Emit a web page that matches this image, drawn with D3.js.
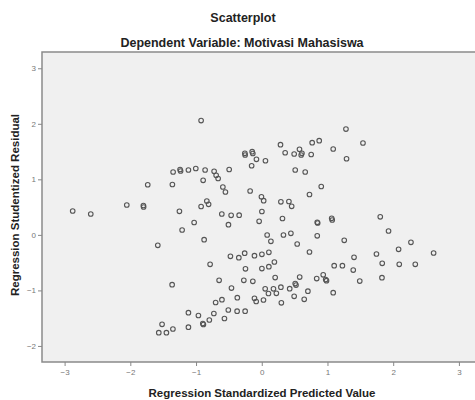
<!DOCTYPE html>
<html>
<head>
<meta charset="utf-8">
<script src="https://cdn.jsdelivr.net/npm/d3@7"></script>
<style>
  body { margin: 0; background: #fff; }
  svg text { font-family: "Liberation Sans", Arial, sans-serif; }
  .axis path { display: none; }
  .axis line { stroke: #888; }
  .axis text { fill: #777; font-size: 8px; }
</style>
</head>
<body>
<div id="grafico"></div>
<script>
// Regression Standardized Predicted Value
var predicted = [
  -0.923, 1.281, 1.540, 0.285, 0.767, 0.874, -0.257, -0.253, -0.146, -0.136,
  0.356, 0.493, 0.574, 0.611, 0.600, 0.752, 1.087, 1.290, -0.081, 0.056,
  -0.154, -1.349, -1.243, -1.235, -1.116, -1.004, -0.862, -0.725, -0.694, -0.664,
  -0.496, 0.509, 0.661, -0.892, -1.735, -1.360, -0.592, -0.553, -0.177, 0.905,
  0.726, -0.836, -0.809, -0.923, -0.005, 0.029, 0.291, 0.413, 0.455, -2.054,
  -1.801, -1.798, -2.877, -2.602, -1.253, 0.002, -0.608, -0.466, -0.344, 1.803,
  0.315, -0.040, 1.064, 1.072, 0.844, 0.851, -1.029, -0.507, -1.212, 1.929,
  -1.582, -0.877, 0.082, 0.139, 0.330, 0.443, 0.539, 0.844, 1.255, 2.270,
  -0.477, -0.349, -0.260, -0.111, 0.002, 0.108, 0.726, 2.082, 1.745, 2.615,
  1.404, -0.786, -0.248, 0.002, 0.108, 0.192, 1.102, 1.227, 1.392, 1.833,
  2.092, 2.336, -1.364, -0.649, -0.273, -0.136, 0.204, 0.577, 0.836, 0.935,
  0.973, 0.985, 1.491, 1.829, 0.509, 0.521, -0.461, 0.052, 0.102, 0.178,
  0.291, 0.222, 0.425, 0.702, 1.087, -0.372, -0.111, -0.085, 0.026, 0.298,
  0.493, 0.646, -0.702, -0.606, -1.116, -0.964, -0.729, -0.509, -0.375, -0.253,
  -0.798, -0.568, -0.897, -0.888, -1.116, -1.517, -1.352, -1.567, -1.451
];

// Regression Studentized Residual
var residual = [
  2.059, 1.906, 1.654, 1.624, 1.660, 1.696, 1.469, 1.438, 1.498, 1.465,
  1.479, 1.456, 1.541, 1.469, 1.438, 1.447, 1.546, 1.371, 1.361, 1.335,
  1.245, 1.132, 1.177, 1.150, 1.168, 1.195, 1.168, 1.145, 1.073, 1.015,
  1.177, 1.168, 1.132, 0.983, 0.903, 0.907, 0.862, 0.772, 0.790, 0.871,
  0.727, 0.610, 0.550, 0.511, 0.687, 0.615, 0.595, 0.601, 0.514, 0.538,
  0.529, 0.502, 0.430, 0.376, 0.424, 0.421, 0.376, 0.352, 0.354, 0.325,
  0.295, 0.244, 0.298, 0.268, 0.226, 0.214, 0.223, 0.183, 0.088, 0.070,
  -0.188, -0.087, -0.002, -0.116, -0.002, 0.028, -0.164, -0.017, -0.098, -0.134,
  -0.386, -0.411, -0.330, -0.375, -0.350, -0.314, -0.308, -0.260, -0.344, -0.326,
  -0.404, -0.530, -0.611, -0.606, -0.573, -0.488, -0.555, -0.555, -0.633, -0.512,
  -0.530, -0.530, -0.897, -0.818, -0.818, -0.836, -0.768, -0.759, -0.786, -0.719,
  -0.804, -0.825, -0.831, -0.771, -0.876, -0.903, -0.957, -0.971, -1.056, -0.971,
  -0.942, -1.052, -0.969, -1.014, -1.041, -1.131, -1.142, -1.200, -1.173, -1.223,
  -1.106, -1.160, -1.218, -1.167, -1.401, -1.452, -1.416, -1.353, -1.374, -1.374,
  -1.533, -1.506, -1.596, -1.614, -1.662, -1.610, -1.695, -1.761, -1.761
];

var xTicks = [-3, -2, -1, 0, 1, 2, 3];
var yTicks = [-2, -1, 0, 1, 2, 3];

var data = predicted.map(function(d, i) { return {x: d, y: residual[i]}; });

var W = 475, H = 400;
var margin = {top: 52, right: -6, bottom: 38, left: 42},
    width = W - margin.left - margin.right,
    height = H - margin.top - margin.bottom;

var x = d3.scaleLinear().domain([-3.344, 3.336]).range([0, width]);
var y = d3.scaleLinear().domain([-2.289, 3.293]).range([height, 0]);

var svg = d3.select("#grafico").append("svg")
    .attr("width", W)
    .attr("height", H);

// titles
svg.append("text")
    .attr("x", 243).attr("y", 22)
    .attr("text-anchor", "middle")
    .style("font-size", "12.5px").style("font-weight", "bold").style("fill", "#222")
    .text("Scatterplot");
svg.append("text")
    .attr("x", 242).attr("y", 47)
    .attr("text-anchor", "middle")
    .style("font-size", "12.5px").style("font-weight", "bold").style("fill", "#222")
    .text("Dependent Variable: Motivasi Mahasiswa");

var g = svg.append("g")
    .attr("transform", "translate(" + margin.left + "," + margin.top + ")");

// plot background + frame
g.append("rect")
    .attr("x", 0).attr("y", 0)
    .attr("width", width).attr("height", height)
    .style("fill", "#f0f0f0")
    .style("stroke", "#8a8a8a")
    .style("stroke-width", 1.5);

// axes
g.append("g")
    .attr("class", "axis")
    .attr("transform", "translate(0," + height + ")")
    .call(d3.axisBottom(x).tickValues(xTicks).tickSize(4).tickPadding(3).tickFormat(d3.format("d")));

g.append("g")
    .attr("class", "axis")
    .call(d3.axisLeft(y).tickValues(yTicks).tickSize(4).tickPadding(2).tickFormat(d3.format("d")));

// points
g.selectAll("circle.pt")
    .data(data)
  .enter().append("circle")
    .attr("class", "pt")
    .attr("cx", function(d) { return x(d.x); })
    .attr("cy", function(d) { return y(d.y); })
    .attr("r", 2.3)
    .style("fill", "none")
    .style("stroke", "#555")
    .style("stroke-width", 1.1);

// axis titles
svg.append("text")
    .attr("x", 262).attr("y", 397)
    .attr("text-anchor", "middle")
    .style("font-size", "11.5px").style("font-weight", "bold").style("fill", "#222")
    .text("Regression Standardized Predicted Value");

svg.append("text")
    .attr("transform", "translate(19,205) rotate(-90)")
    .attr("text-anchor", "middle")
    .style("font-size", "11.5px").style("font-weight", "bold").style("fill", "#222")
    .text("Regression Studentized Residual");
</script>
</body>
</html>
